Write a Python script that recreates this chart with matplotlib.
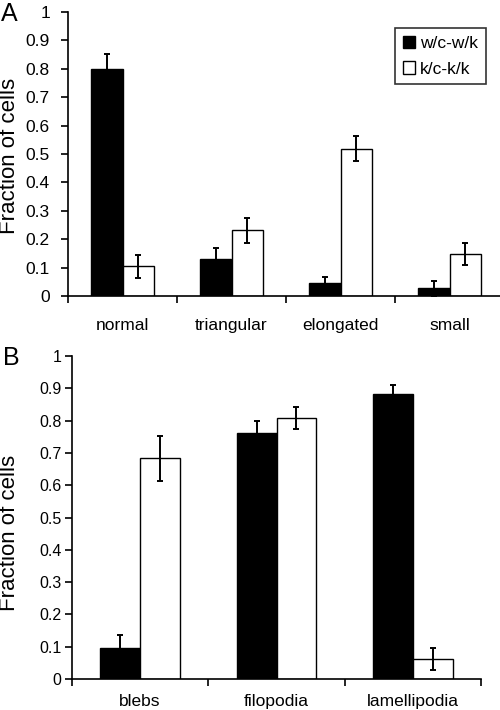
import matplotlib
matplotlib.use("Agg")
import matplotlib.pyplot as plt
import numpy as np

plt.rcParams['font.family'] = ['Liberation Sans', 'DejaVu Sans']

series_names = ["w/c-w/k", "k/c-k/k"]

cats_a = ["normal", "triangular", "elongated", "small"]
a_black = [0.80, 0.13, 0.045, 0.027]
a_black_err = [0.052, 0.04, 0.022, 0.026]
a_white = [0.104, 0.231, 0.518, 0.148]
a_white_err = [0.041, 0.045, 0.044, 0.040]

cats_b = ["blebs", "filopodia", "lamellipodia"]
b_black = [0.097, 0.762, 0.881]
b_black_err = [0.040, 0.037, 0.030]
b_white = [0.683, 0.809, 0.062]
b_white_err = [0.070, 0.034, 0.033]

yticks = [0, 0.1, 0.2, 0.3, 0.4, 0.5, 0.6, 0.7, 0.8, 0.9, 1]
ytick_labels = ["0", "0.1", "0.2", "0.3", "0.4", "0.5", "0.6", "0.7", "0.8", "0.9", "1"]

W, H = 500, 710
fig = plt.figure(figsize=(W / 100, H / 100), dpi=100)


def panel(rect, cats, blk, blk_err, wht, wht_err, ylab_pad, xlab_pad, tick_fs):
    ax = fig.add_axes(rect)
    n = len(cats)
    x = np.arange(n)
    bw = 0.293
    ek = dict(elinewidth=1.4, capsize=2.5, capthick=1.4, ecolor='black')
    ax.bar(x - bw / 2, blk, bw, yerr=blk_err, color='black', edgecolor='black',
           linewidth=1.0, error_kw=ek, label=series_names[0], zorder=2)
    ax.bar(x + bw / 2, wht, bw, yerr=wht_err, color='white', edgecolor='black',
           linewidth=1.0, error_kw=ek, label=series_names[1], zorder=2)
    ax.set_xlim(-0.5, n - 0.5)
    ax.set_ylim(0, 1)
    ax.set_yticks(yticks)
    ax.set_yticklabels(ytick_labels, fontsize=tick_fs)
    ax.set_xticks(np.arange(n + 1) - 0.5)
    ax.set_xticklabels([])
    ax.set_xticks(x, minor=True)
    ax.set_xticklabels(cats, minor=True, fontsize=12.5)
    ax.tick_params(axis='x', which='minor', length=0, pad=xlab_pad)
    ax.tick_params(axis='x', which='major', length=5, width=1.2, direction='out')
    ax.tick_params(axis='y', length=5, width=1.2, direction='out', pad=ylab_pad)
    for s in ['top', 'right']:
        ax.spines[s].set_visible(False)
    for s in ['left', 'bottom']:
        ax.spines[s].set_linewidth(1.2)
    return ax


ax_a = panel([68 / W, 1 - 296 / H, 436 / W, 284 / H], cats_a, a_black, a_black_err,
             a_white, a_white_err, ylab_pad=8, xlab_pad=16, tick_fs=12.5)
ax_b = panel([72 / W, 1 - 679 / H, 409 / W, 323 / H], cats_b, b_black, b_black_err,
             b_white, b_white_err, ylab_pad=2.5, xlab_pad=11, tick_fs=11.5)

fig.text(10 / W, 1 - 156 / H, "Fraction of cells", rotation=90, fontsize=16,
         ha='center', va='center')
fig.text(10 / W, 1 - 533 / H, "Fraction of cells", rotation=90, fontsize=16,
         ha='center', va='center')
fig.text(1 / W, 1 - 14 / H, "A", fontsize=18, ha='left', va='center')
fig.text(3 / W, 1 - 358 / H, "B", fontsize=18, ha='left', va='center')

leg = ax_a.legend(loc='upper right', bbox_to_anchor=(486 / W, 1 - 28 / H),
                  bbox_transform=fig.transFigure, fontsize=12.5, frameon=True,
                  fancybox=False, edgecolor='black', borderaxespad=0,
                  handlelength=0.7, handleheight=0.7, handletextpad=0.3,
                  labelspacing=0.6, borderpad=0.45)
leg.get_frame().set_linewidth(1.2)

fig.savefig("out.png", dpi=100)
